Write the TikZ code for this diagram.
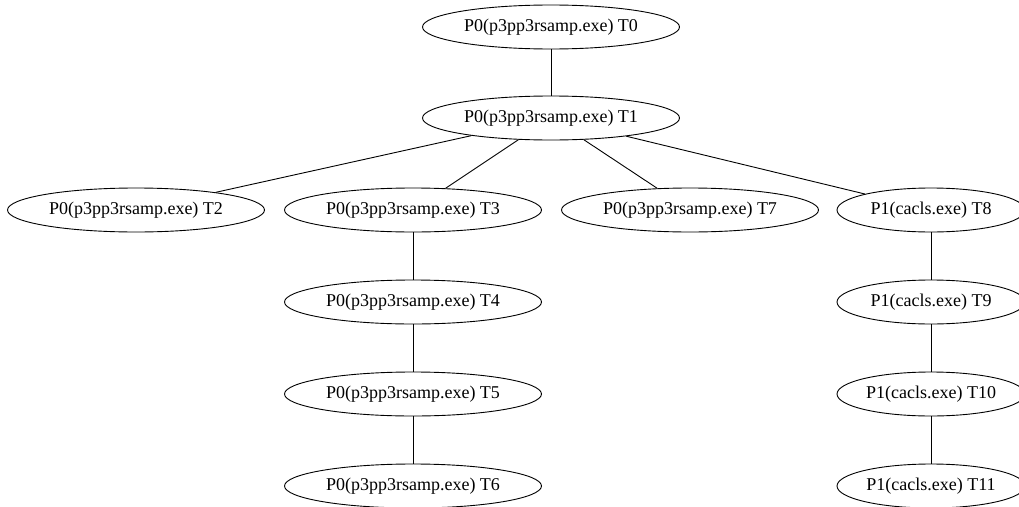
\documentclass[tikz,border=0pt]{standalone}
\usepackage{fontspec}
\setmainfont{Liberation Serif}
\usetikzlibrary{shapes.geometric}
\begin{document}
\begin{tikzpicture}[x=1pt,y=-1pt,
  proc/.style={draw, ellipse, line width=0.9pt, inner sep=0pt, minimum height=44pt, font=\fontsize{18}{20}\selectfont},
  pnode/.style={proc, minimum width=257pt},
  cnode/.style={proc, minimum width=188pt},
  edge/.style={line width=0.9pt}]
\useasboundingbox (0,0) rectangle (1019,506);
\node[pnode] (t0) at (551,27) {P0(p3pp3rsamp.exe) T0};
\node[pnode] (t1) at (551,118) {P0(p3pp3rsamp.exe) T1};
\node[pnode] (t2) at (136,210) {P0(p3pp3rsamp.exe) T2};
\node[pnode] (t3) at (413,210) {P0(p3pp3rsamp.exe) T3};
\node[pnode] (t7) at (690,210) {P0(p3pp3rsamp.exe) T7};
\node[cnode] (t8) at (931,210) {P1(cacls.exe) T8};
\node[pnode] (t4) at (413,302) {P0(p3pp3rsamp.exe) T4};
\node[pnode] (t5) at (413,394) {P0(p3pp3rsamp.exe) T5};
\node[pnode] (t6) at (413,486) {P0(p3pp3rsamp.exe) T6};
\node[cnode] (t9) at (931,302) {P1(cacls.exe) T9};
\node[cnode] (t10) at (931,394) {P1(cacls.exe) T10};
\node[cnode] (t11) at (931,486) {P1(cacls.exe) T11};
\draw[edge] (t0) -- (t1);
\draw[edge] (t1) -- (t2);
\draw[edge] (t1) -- (t3);
\draw[edge] (t1) -- (t7);
\draw[edge] (t1) -- (t8);
\draw[edge] (t3) -- (t4);
\draw[edge] (t4) -- (t5);
\draw[edge] (t5) -- (t6);
\draw[edge] (t8) -- (t9);
\draw[edge] (t9) -- (t10);
\draw[edge] (t10) -- (t11);
\end{tikzpicture}
\end{document}
